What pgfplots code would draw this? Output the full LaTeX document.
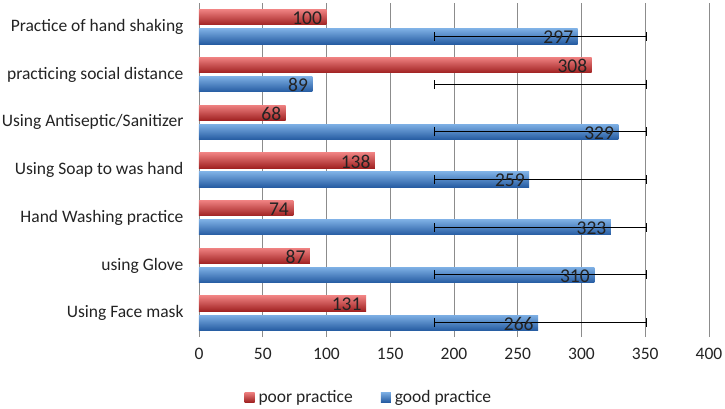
\documentclass[border=0pt]{standalone}
\usepackage{pgfplots}
\pgfplotsset{compat=1.18}
\usepackage{fontspec}
\setmainfont{Carlito}
\definecolor{rtop}{RGB}{238,128,128}
\definecolor{rmid}{RGB}{214,66,66}
\definecolor{rbot}{RGB}{160,34,34}
\definecolor{btop}{RGB}{125,175,228}
\definecolor{bmid}{RGB}{74,134,204}
\definecolor{bbot}{RGB}{38,92,162}
\definecolor{gridc}{RGB}{140,140,140}
\definecolor{txt}{RGB}{35,35,35}
\begin{document}
\begin{tikzpicture}[x=1pt,y=1pt]
\useasboundingbox (-199pt,-71pt) rectangle (526pt,337pt);
\begin{axis}[
  at={(0,0)}, anchor=south west,
  scale only axis, width=510pt, height=334pt,
  xmin=0, xmax=400, ymin=-0.5, ymax=6.5,
  xtick={0,50,...,400},
  ytick={0,...,6},
  yticklabels={Using Face mask, using Glove, Hand Washing practice, Using Soap to was hand, Using Antiseptic/Sanitizer, practicing social distance, Practice of hand shaking},
  axis line style={draw=none},
  major tick length=0pt,
  xmajorgrids, grid style={gridc, line width=0.8pt},
  tick label style={txt, font=\fontsize{17.5}{20}\selectfont},
  xticklabel style={yshift=-8pt},
  yticklabel style={xshift=-12pt},
  /pgf/number format/assume math mode=true,
  legend style={at={(0.333,-0.18)}, anchor=center, draw=none, fill=none, legend columns=2,
    font=\fontsize{17.5}{20}\selectfont, text=txt,
    /tikz/every odd column/.append style={column sep=2pt},
    /tikz/every even column/.append style={column sep=26pt}},
  redbar/.style={xbar, bar width=0.32, bar shift=0.2, draw=none, top color=rtop, middle color=rmid, bottom color=rbot, forget plot},
  bluebar/.style={xbar, bar width=0.32, bar shift=-0.2, draw=none, top color=btop, middle color=bmid, bottom color=bbot, forget plot},
]
\addlegendimage{legend image code/.code={\path[draw=none, top color=rtop, middle color=rmid, bottom color=rbot] (0pt,-5pt) rectangle (10pt,5pt);}}
\addlegendentry{poor practice}
\addlegendimage{legend image code/.code={\path[draw=none, top color=btop, middle color=bmid, bottom color=bbot] (0pt,-5pt) rectangle (10pt,5pt);}}
\addlegendentry{good practice}
% poor practice
\addplot[redbar] coordinates {(131,0)};
\addplot[redbar] coordinates {(87,1)};
\addplot[redbar] coordinates {(74,2)};
\addplot[redbar] coordinates {(138,3)};
\addplot[redbar] coordinates {(68,4)};
\addplot[redbar] coordinates {(308,5)};
\addplot[redbar] coordinates {(100,6)};
% good practice
\addplot[bluebar] coordinates {(266,0)};
\addplot[bluebar] coordinates {(310,1)};
\addplot[bluebar] coordinates {(323,2)};
\addplot[bluebar] coordinates {(259,3)};
\addplot[bluebar] coordinates {(329,4)};
\addplot[bluebar] coordinates {(89,5)};
\addplot[bluebar] coordinates {(297,6)};
% error bars (centered at mean of good practice, +- sd)
\addplot[forget plot, draw=none, mark=none,
  error bars/.cd, x dir=both, x explicit,
  error bar style={black, line width=1pt},
  error mark options={black, line width=1pt, mark size=4.5pt, rotate=90}]
  coordinates {
   (267.6,-0.2) +- (83.1,0)
   (267.6,0.8) +- (83.1,0)
   (267.6,1.8) +- (83.1,0)
   (267.6,2.8) +- (83.1,0)
   (267.6,3.8) +- (83.1,0)
   (267.6,4.8) +- (83.1,0)
   (267.6,5.8) +- (83.1,0)};
% data labels
\addplot[forget plot, draw=none, mark=none, nodes near coords, point meta=x,
  every node near coord/.append style={anchor=east, xshift=-1pt, yshift=-1pt, text=txt, font=\fontsize{19.5}{22}\selectfont}]
  coordinates {(131,0.2) (87,1.2) (74,2.2) (138,3.2) (68,4.2) (308,5.2) (100,6.2)};
\addplot[forget plot, draw=none, mark=none, nodes near coords, point meta=x,
  every node near coord/.append style={anchor=east, xshift=-1pt, yshift=-1pt, text=txt, font=\fontsize{19.5}{22}\selectfont}]
  coordinates {(266,-0.2) (310,0.8) (323,1.8) (259,2.8) (329,3.8) (89,4.8) (297,5.8)};
\end{axis}
\end{tikzpicture}
\end{document}
